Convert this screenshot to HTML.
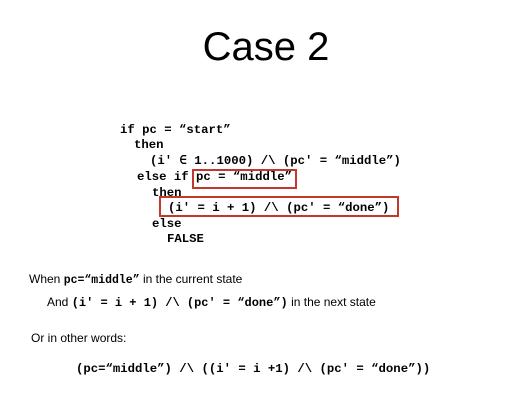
<!DOCTYPE html>
<html><head><meta charset="utf-8"><style>
body{margin:0;width:532px;height:400px;background:#fff;position:relative;overflow:hidden;font-family:"Liberation Sans",sans-serif;color:#000}
.a{position:absolute;white-space:pre;line-height:1}
.m{font-family:"Liberation Mono",monospace;font-weight:bold;font-size:12.3px}
.s{font-size:12px}
.box{position:absolute;border:2px solid #c0392b;box-sizing:border-box}
</style></head><body>
<div class="a" style="left:0;width:532px;text-align:center;top:27px;font-size:40px">Case 2</div>
<div class="a m" style="left:120px;top:124px">if pc = “start”</div>
<div class="a m" style="left:134px;top:139px">then</div>
<div class="a m" style="left:150px;top:155px">(i′ ∈ 1..1000) /\ (pc′ = “middle”)</div>
<div class="a m" style="left:137px;top:171px">else if pc = “middle”</div>
<div class="a m" style="left:152px;top:187px">then</div>
<div class="a m" style="left:168px;top:202px">(i′ = i + 1) /\ (pc′ = “done”)</div>
<div class="a m" style="left:152px;top:218px">else</div>
<div class="a m" style="left:167px;top:233px">FALSE</div>
<div class="box" style="left:192px;top:169px;width:105px;height:20px"></div>
<div class="box" style="left:159px;top:196px;width:240px;height:21px"></div>
<div class="a s" style="left:29px;top:273px">When <span class="m" style="font-size:11.5px">pc=“middle”</span> in the current state</div>
<div class="a s" style="left:47px;top:296px">And <span class="m" style="font-size:12px">(i′ = i + 1) /\ (pc′ = “done”)</span> in the next state</div>
<div class="a s" style="left:31px;top:332px">Or in other words:</div>
<div class="a m" style="left:76px;top:363px">(pc=“middle”) /\ ((i′ = i +1) /\ (pc′ = “done”))</div>
</body></html>
